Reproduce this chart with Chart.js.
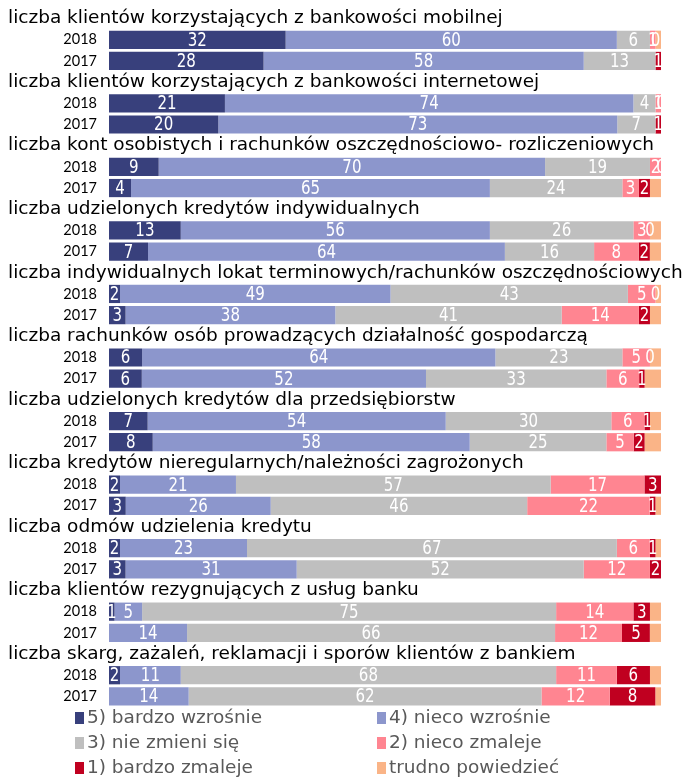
<!DOCTYPE html>
<html lang="pl">
<head>
<meta charset="utf-8">
<title>Oczekiwane zmiany w bankach</title>
<script src="https://cdn.jsdelivr.net/npm/chart.js@4.4.1/dist/chart.umd.min.js"></script>
<style>
  html, body { margin: 0; padding: 0; background: #ffffff; }
  #wrap { position: relative; width: 685px; height: 779px; }
  canvas { display: block; }
</style>
</head>
<body>
<div id="wrap"><canvas id="chart" width="685" height="779"></canvas></div>
<script>
// Group headings (one per pair of bars)
const titles = [
  'liczba klientów korzystających z bankowości mobilnej',
  'liczba klientów korzystających z bankowości internetowej',
  'liczba kont osobistych i rachunków oszczędnościowo- rozliczeniowych',
  'liczba udzielonych kredytów indywidualnych',
  'liczba indywidualnych lokat terminowych/rachunków oszczędnościowych',
  'liczba rachunków osób prowadzących działalność gospodarczą',
  'liczba udzielonych kredytów dla przedsiębiorstw',
  'liczba kredytów nieregularnych/należności zagrożonych',
  'liczba odmów udzielenia kredytu',
  'liczba klientów rezygnujących z usług banku',
  'liczba skarg, zażaleń, reklamacji i sporów klientów z bankiem'
];
const years = ['2018', '2017'];

// Answer shares in %, ordered: group 1 2018, group 1 2017, group 2 2018, ...
const bardzoWzrosnie = [32, 28, 21, 20, 9, 4, 13, 7, 2, 3, 6, 6, 7, 8, 2, 3, 2, 3, 1, null, 2, null];
const niecoWzrosnie  = [60, 58, 74, 73, 70, 65, 56, 64, 49, 38, 64, 52, 54, 58, 21, 26, 23, 31, 5, 14, 11, 14];
const nieZmieniSie   = [6, 13, 4, 7, 19, 24, 26, 16, 43, 41, 23, 33, 30, 25, 57, 46, 67, 52, 75, 66, 68, 62];
const niecoZmaleje   = [1, null, 1, null, 2, 3, 3, 8, 5, 14, 5, 6, 6, 5, 17, 22, 6, 12, 14, 12, 11, 12];
const bardzoZmaleje  = [0, 1, 0, 1, 0, 2, 0, 2, 0, 2, 0, 1, 1, 2, 3, 1, 1, 2, 3, 5, 6, 8];
const trudnoPowiedziec = [1, null, null, null, null, 2, 2, 2, 1, 2, 2, 3, 2, 3, null, 1, 1, null, 2, 2, 2, 1];

const seriesNames = ['5) bardzo wzrośnie', '4) nieco wzrośnie', '3) nie zmieni się',
                     '2) nieco zmaleje', '1) bardzo zmaleje', 'trudno powiedzieć'];
const seriesValues = [bardzoWzrosnie, niecoWzrosnie, nieZmieniSie, niecoZmaleje, bardzoZmaleje, trudnoPowiedziec];
const seriesColors = ['#38407c', '#8c96cc', '#bfbfbf', '#ff8591', '#c00020', '#fab487'];
const labelledSeries = [true, true, true, true, true, false];

// Category axis: a heading row followed by one row per year
const rowLabels = [];
titles.forEach(() => { rowLabels.push(''); years.forEach(y => rowLabels.push(y)); });

// Each bar is shown as a 100% stack of its answers
const rowTotals = bardzoWzrosnie.map((_, i) =>
  seriesValues.reduce((s, arr) => s + (arr[i] == null ? 0 : arr[i]), 0));

function toRows(arr, share) {
  const out = [];
  titles.forEach((_, g) => {
    out.push(null);
    years.forEach((_, k) => {
      const i = g * years.length + k;
      const v = arr[i];
      out.push(v == null ? null : (share ? v / rowTotals[i] * 100 : v));
    });
  });
  return out;
}

const datasets = seriesNames.map((name, s) => ({
  label: name,
  data: toRows(seriesValues[s], true),
  rawValues: toRows(seriesValues[s], false),
  showValue: labelledSeries[s],
  backgroundColor: seriesColors[s],
  borderWidth: 0,
  categoryPercentage: 1,
  barPercentage: 0.86
}));

const headingPlugin = {
  id: 'headings',
  afterDraw(chart) {
    const ctx = chart.ctx;
    const y = chart.scales.y;
    ctx.save();
    ctx.font = '18.5px "DejaVu Sans"';
    ctx.fillStyle = '#000000';
    ctx.textAlign = 'left';
    ctx.textBaseline = 'middle';
    titles.forEach((t, g) => {
      ctx.fillText(t, 8, y.getPixelForValue(g * (years.length + 1)));
    });
    ctx.restore();
  }
};

const valueLabelPlugin = {
  id: 'valueLabels',
  afterDatasetsDraw(chart) {
    const ctx = chart.ctx;
    const area = chart.chartArea;
    const squeeze = 0.88;
    ctx.save();
    ctx.beginPath();
    ctx.rect(area.left, area.top, area.right - area.left, area.bottom - area.top);
    ctx.clip();
    ctx.font = '19px "DejaVu Sans Condensed", "DejaVu Sans"';
    ctx.fillStyle = '#ffffff';
    ctx.textAlign = 'center';
    ctx.textBaseline = 'middle';
    chart.data.datasets.forEach((ds, di) => {
      if (!ds.showValue) return;
      chart.getDatasetMeta(di).data.forEach((el, i) => {
        const v = ds.rawValues[i];
        if (v == null) return;
        const p = el.getProps(['x', 'y', 'base'], true);
        const cx = (p.x + p.base) / 2;
        ctx.save();
        ctx.translate(cx, p.y + 1);
        ctx.scale(squeeze, 1);
        ctx.fillText(String(v), 0, 0);
        ctx.restore();
      });
    });
    ctx.restore();
  }
};

const legendPlugin = {
  id: 'twoColumnLegend',
  afterDraw(chart) {
    const ctx = chart.ctx;
    const cols = [75, 377];
    const rows = [718, 743, 768];
    ctx.save();
    ctx.font = '18.5px "DejaVu Sans"';
    ctx.textAlign = 'left';
    ctx.textBaseline = 'middle';
    chart.data.datasets.forEach((ds, i) => {
      const x = cols[i % 2];
      const y = rows[Math.floor(i / 2)];
      ctx.fillStyle = ds.backgroundColor;
      ctx.fillRect(x, y - 6, 9, 12);
      ctx.fillStyle = '#595959';
      ctx.fillText(ds.label, x + 12, y);
    });
    ctx.restore();
  }
};

new Chart(document.getElementById('chart'), {
  type: 'bar',
  data: { labels: rowLabels, datasets },
  options: {
    indexAxis: 'y',
    responsive: false,
    animation: false,
    layout: { padding: { left: 0, right: 24, top: 8, bottom: 72 } },
    plugins: { legend: { display: false }, tooltip: { enabled: false } },
    scales: {
      x: { stacked: true, min: 0, max: 100, display: false },
      y: {
        stacked: true,
        grid: { display: false, drawTicks: false },
        border: { display: false },
        afterFit(scale) {
          scale.width = 109;
          scale.paddingTop = 0;
          scale.paddingBottom = 0;
        },
        ticks: {
          autoSkip: false,
          padding: 12,
          color: '#000000',
          font: { family: 'Lato', size: 14.5 }
        }
      }
    }
  },
  plugins: [headingPlugin, valueLabelPlugin, legendPlugin]
});
</script>
</body>
</html>
